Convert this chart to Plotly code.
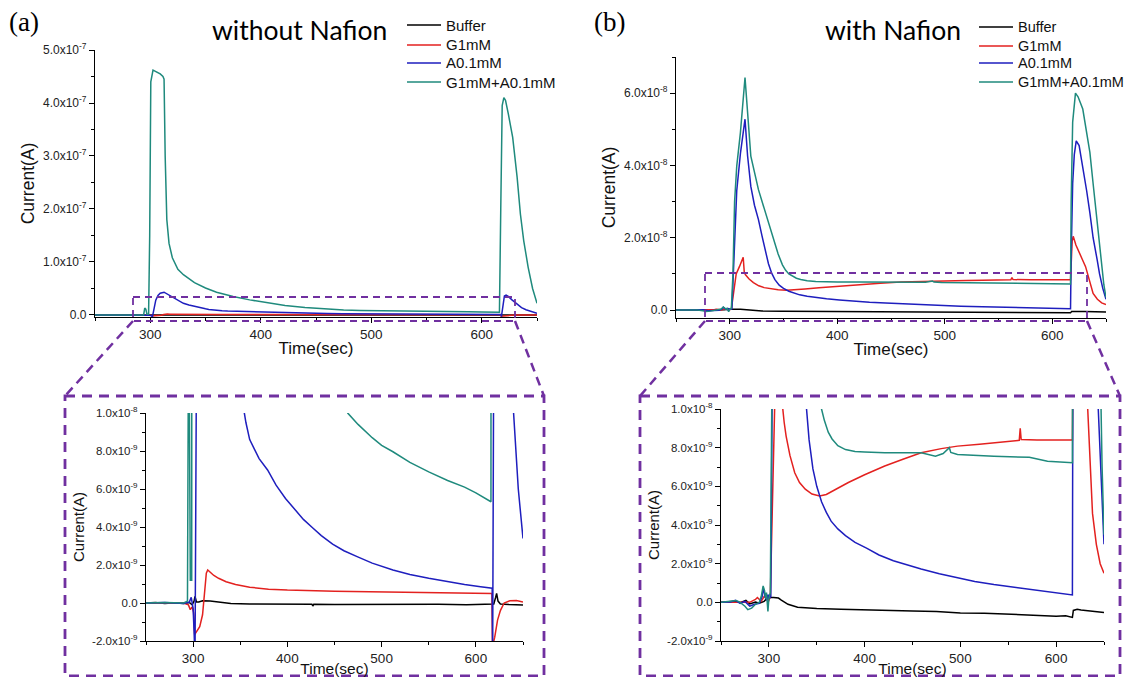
import numpy as np
import plotly.graph_objects as go

W, H = 1125, 677

# ---------------- data (currents in nA, time in s) ----------------
series_names = ["Buffer", "G1mM", "A0.1mM", "G1mM+A0.1mM"]
series_colors = ["#000000", "#E3211F", "#1E1EBE", "#1F8A7D"]

# (a) without Nafion
t_buf_a = [250, 260, 270, 280, 290, 296, 299, 301, 302, 303.5, 306, 310, 318, 325, 340, 360, 380, 400, 426, 427, 428, 450, 480, 500, 530, 560, 590, 617, 619, 621, 622, 623.5, 626, 635, 650]
i_buf_a = [0, 0.02, -0.02, 0.01, -0.02, 0.03, -0.1, 0.1, 0.35, 0.05, 0.05, 0.12, 0.1, 0.05, -0.02, -0.05, -0.06, -0.07, -0.06, -0.16, -0.06, -0.08, -0.07, -0.09, -0.08, -0.07, -0.09, -0.08, -0.05, 0.3, 0.5, 0.1, -0.05, -0.08, -0.1]

t_g_a = [250, 270, 290, 295, 297, 299, 300.5, 301.6, 304, 307, 310, 312.2, 314, 315.5, 318, 322, 327, 335, 345, 360, 380, 400, 450, 500, 550, 600, 617, 617.6, 620, 623, 626, 630, 636, 643, 650]
i_g_a = [0, 0.01, 0, -0.1, -0.35, -0.2, -0.5, -1.66, -1.5, -1.25, -0.62, 0.78, 1.57, 1.74, 1.62, 1.45, 1.3, 1.12, 0.97, 0.83, 0.73, 0.68, 0.62, 0.58, 0.55, 0.52, 0.5, -2.3, -1.8, -0.9, -0.4, 0.0, 0.12, 0.13, 0.05]

t_a_a = [250, 270, 290, 296, 298, 300, 301, 302, 302.6, 303.5, 305, 307, 309, 312.5, 315, 320, 324, 330, 335, 340, 345, 350, 353, 356, 360, 365, 370, 379, 388, 398, 408, 417, 427, 436, 448, 460, 474, 490, 512, 530, 550, 570, 588, 605, 616, 617.3, 617.8, 618.6, 620.5, 622, 624, 627.6, 632, 636, 640, 645, 649, 650]
i_a_a = [0, 0.02, -0.02, 0.05, 0.3, -0.3, -1.5, -3.0, 3, 15, 28, 37, 41, 43, 40, 33, 28, 22, 19, 16.2, 13.7, 11.6, 10.4, 9.5, 8.6, 8.1, 7.6, 7.0, 6.2, 5.5, 4.9, 4.4, 3.95, 3.55, 3.1, 2.75, 2.44, 2.1, 1.74, 1.5, 1.3, 1.12, 0.97, 0.86, 0.8, 0.78, -3, 12, 36, 37.5, 35, 28, 20, 14, 10, 6, 3.6, 3.4]

t_ga_a = [250, 270, 290, 294, 295, 296, 297, 298.5, 299.5, 300.5, 302.5, 306, 309, 311.5, 312.5, 313.5, 315, 317, 320, 325, 330, 340, 350, 360, 375, 390, 405, 422, 440, 464, 475, 490, 500, 512, 530, 550, 570, 588, 600, 616, 617.2, 618.5, 620, 621.5, 624, 628, 632, 635, 638, 642, 646, 650]
i_ga_a = [0, 0.02, 0, 0.1, 13, 11, 1.2, 1.2, 150, 440, 462, 458, 455, 450, 445, 300, 180, 135, 108, 86, 76, 61, 51, 43, 35, 28.5, 23, 18, 14, 10, 9.4, 8.7, 8.3, 7.96, 7.4, 6.9, 6.45, 6.1, 5.8, 5.33, 200, 395, 410, 405, 380, 335, 260, 190, 140, 90, 50, 22]

# (b) with Nafion
t_buf_b = [250, 258, 265, 270, 276, 280, 286, 290, 295, 298, 300, 305, 310, 313, 320, 330, 350, 375, 400, 425, 450, 475, 500, 525, 550, 575, 600, 610, 617, 618, 622, 626, 630, 640, 650]
i_buf_b = [0, 0.02, 0.05, -0.02, 0.1, -0.08, 0.02, -0.05, 0.05, 0.2, 0.25, 0.25, 0.22, 0.12, -0.1, -0.25, -0.32, -0.36, -0.38, -0.42, -0.45, -0.48, -0.55, -0.56, -0.62, -0.65, -0.72, -0.7, -0.78, -0.42, -0.36, -0.4, -0.42, -0.48, -0.52]

t_g_b = [250, 270, 280, 286, 288, 292, 295, 298, 300, 301.5, 303, 304.5, 306, 309, 312.5, 313.5, 314.5, 316, 318, 322, 327, 332, 338, 345, 353, 360, 370, 383, 400, 421, 440, 459, 480, 497, 520, 535, 550, 561.5, 562.5, 563.5, 580, 600, 617, 618.5, 619.5, 622, 625, 628, 631, 633, 635.5, 638, 642, 646, 650]
i_g_b = [0, 0.02, 0, 0.15, 0.25, 0.05, 0.3, 0.2, 0.1, 0.3, 4, 8, 10, 12, 14.6, 10.5, 9.8, 9.3, 8.6, 7.6, 6.7, 6.2, 5.85, 5.6, 5.5, 5.58, 5.85, 6.2, 6.6, 7.05, 7.4, 7.74, 7.95, 8.08, 8.18, 8.25, 8.3, 8.38, 9.0, 8.42, 8.4, 8.38, 8.4, 19, 20.4, 18, 15.8, 14, 12, 10, 7, 4.6, 3.0, 2.0, 1.5]

t_a_b = [250, 260, 265, 270, 275, 280, 285, 290, 293, 294, 296, 298, 299, 300.5, 302, 303, 305, 306.5, 310, 314.2, 316.6, 319.6, 323, 326.7, 330, 333, 336, 339, 342, 346, 350, 355, 360, 365, 372, 380, 390, 402, 415, 430, 445, 459, 478, 497, 515, 535, 555, 572, 590, 605, 617, 617.6, 619, 620.5, 622.3, 625, 628.4, 632, 635, 638, 641.8, 644, 647, 650]
i_a_b = [0, 0.02, 0.1, -0.05, 0.05, -0.2, -0.1, -0.05, 0.3, 0.75, 0.3, 0.1, 0.4, 0.2, 0.3, 8, 24, 33, 43.5, 52.8, 42.6, 34.2, 29, 25, 20.5, 16.5, 12.8, 10.2, 8.4, 6.9, 6.0, 5.2, 4.65, 4.2, 3.8, 3.45, 3.1, 2.8, 2.45, 2.15, 1.92, 1.72, 1.48, 1.26, 1.08, 0.92, 0.78, 0.66, 0.55, 0.46, 0.38, 15, 35, 43, 46.8, 45.5, 39.8, 33, 26.9, 20, 13.9, 10, 6, 3.0]

t_ga_b = [250, 262, 266, 270, 275, 278, 282, 286, 290, 292, 294, 295.5, 296.5, 297.5, 299, 300, 301.5, 303, 304.5, 306.5, 309.9, 314.2, 316.6, 319.6, 326.7, 333.4, 340, 345, 349, 352, 355, 358, 362, 366, 372, 380, 390, 400, 421, 459, 474, 482, 488.5, 490, 497, 535, 572, 591, 617, 617.6, 619, 621.6, 624, 628.4, 631.5, 635, 638, 641.8, 645, 648, 650]
i_ga_b = [0, 0.05, 0.1, 0, -0.2, -0.38, -0.3, -0.1, 0, 0.3, 0.85, 0.6, 0.2, 0.5, -0.47, 0.2, 0.5, 10, 30, 39.8, 49, 64.3, 54.6, 42.6, 33.3, 26.8, 20, 15.5, 12.5, 11, 10, 9.4, 8.8, 8.45, 8.1, 7.9, 7.8, 7.78, 7.74, 7.74, 7.56, 7.7, 8.0, 7.75, 7.65, 7.56, 7.5, 7.3, 7.22, 30, 52, 60, 59, 55.6, 50, 43.6, 35, 24, 14, 7, 3.5]

panel_a = [(t_buf_a, i_buf_a), (t_g_a, i_g_a), (t_a_a, i_a_a), (t_ga_a, i_ga_a)]
panel_b = [(t_buf_b, i_buf_b), (t_g_b, i_g_b), (t_a_b, i_a_b), (t_ga_b, i_ga_b)]

# tick labels
x_tick_vals = [300, 400, 500, 600]
x_tick_text = ["300", "400", "500", "600"]
x_minor_vals = [250, 350, 450, 550, 650]

ya_vals = [0, 1e-7, 2e-7, 3e-7, 4e-7, 5e-7]
ya_text = ["0.0", "1.0x10<sup>-7</sup>", "2.0x10<sup>-7</sup>", "3.0x10<sup>-7</sup>", "4.0x10<sup>-7</sup>", "5.0x10<sup>-7</sup>"]
ya_minor = [0.5e-7, 1.5e-7, 2.5e-7, 3.5e-7, 4.5e-7]

yb_vals = [0, 2e-8, 4e-8, 6e-8]
yb_text = ["0.0", "2.0x10<sup>-8</sup>", "4.0x10<sup>-8</sup>", "6.0x10<sup>-8</sup>"]
yb_minor = [1e-8, 3e-8, 5e-8, 7e-8]

yz_vals = [-2e-9, 0, 2e-9, 4e-9, 6e-9, 8e-9, 1e-8]
yz_text = ["-2.0x10<sup>-9</sup>", "0.0", "2.0x10<sup>-9</sup>", "4.0x10<sup>-9</sup>", "6.0x10<sup>-9</sup>", "8.0x10<sup>-9</sup>", "1.0x10<sup>-8</sup>"]
yz_minor = [-1e-9, 1e-9, 3e-9, 5e-9, 7e-9, 9e-9]

NA = 1e-9  # nA -> A

# ---------------- figure ----------------
def px(x):
    return x / W

def py(y):
    return 1 - y / H

fig = go.Figure()

def add_panel(data, xa, ya):
    for (t, i), name, col in zip(data, series_names, series_colors):
        fig.add_trace(go.Scatter(
            x=t, y=np.array(i) * NA, mode="lines", name=name,
            line=dict(color=col, width=1.5),
            xaxis=xa, yaxis=ya, showlegend=False))

add_panel(panel_a, "x", "y")
add_panel(panel_b, "x2", "y2")
add_panel(panel_a, "x3", "y3")
add_panel(panel_b, "x4", "y4")

FONT = "Liberation Sans, Arial"

def xaxis_def(dom, anchor, title_size):
    return dict(domain=[px(dom[0]), px(dom[1])], anchor=anchor, range=[250, 650],
                tickmode="array", tickvals=x_tick_vals, ticktext=x_tick_text,
                ticks="outside", ticklen=5, tickwidth=1, tickcolor="#000",
                minor=dict(tickvals=x_minor_vals, ticks="outside", ticklen=3, tickcolor="#000"),
                showline=True, linecolor="#000", linewidth=1.2, showgrid=False, zeroline=False,
                tickfont=dict(family=FONT, size=13.5, color="#222"), automargin=False,
                title=dict(text="Time(sec)", font=dict(family=FONT, size=title_size, color="#111"), standoff=0))

def yaxis_def(dom, anchor, rng, vals, text, minor, title_size, tsize):
    return dict(domain=[py(dom[1]), py(dom[0])], anchor=anchor, range=rng,
                tickmode="array", tickvals=vals, ticktext=text,
                ticks="outside", ticklen=5, tickwidth=1, tickcolor="#000",
                minor=dict(tickvals=minor, ticks="outside", ticklen=3, tickcolor="#000"),
                showline=True, linecolor="#000", linewidth=1.2, showgrid=False, zeroline=False,
                tickfont=dict(family=FONT, size=tsize, color="#222"), automargin=False,
                title=dict(text="Current(A)", font=dict(family=FONT, size=title_size, color="#111"), standoff=3))

fig.update_layout(
    width=W, height=H, margin=dict(l=0, r=0, t=0, b=0, autoexpand=False),
    paper_bgcolor="white", plot_bgcolor="white", showlegend=False,
    xaxis=xaxis_def((95, 537), "y", 17),
    yaxis=yaxis_def((50, 317), "x", [-3.8e-9, 5e-7], ya_vals, ya_text, ya_minor, 17.5, 12),
    xaxis2=xaxis_def((676, 1106), "y2", 17),
    yaxis2=yaxis_def((57, 318), "x2", [-2.2e-9, 7.0e-8], yb_vals, yb_text, yb_minor, 17.5, 12),
    xaxis3=xaxis_def((146, 523), "y3", 15.5),
    yaxis3=yaxis_def((413, 641), "x3", [-2e-9, 1e-8], yz_vals, yz_text, yz_minor, 15, 11.5),
    xaxis4=xaxis_def((721, 1104), "y4", 15.5),
    yaxis4=yaxis_def((409, 641), "x4", [-2e-9, 1e-8], yz_vals, yz_text, yz_minor, 15, 11.5),
)

# legends (line samples + labels)
legend_rows_a = [25, 45, 63, 82]
legend_rows_b = [27, 46, 63, 82]
for rows, lx0, lx1, fs in ((legend_rows_a, 407, 441, 15), (legend_rows_b, 979, 1013, 14.5)):
    for yy, name, col in zip(rows, series_names, series_colors):
        fig.add_shape(type="line", xref="paper", yref="paper", x0=px(lx0), x1=px(lx1), y0=py(yy), y1=py(yy),
                      line=dict(color=col, width=1.6))
        fig.add_annotation(x=px(lx1 + 3), y=py(yy), xref="paper", yref="paper", text=name,
                           xanchor="left", yanchor="middle", showarrow=False,
                           font=dict(family=FONT, size=fs, color="#111"))

# titles and panel labels
def label(x, y, text, family, size):
    fig.add_annotation(x=px(x), y=py(y), xref="paper", yref="paper", text=text,
                       xanchor="center", yanchor="middle", showarrow=False,
                       font=dict(family=family, size=size, color="#000"))

label(299, 30, "without Nafion", "Lato", 26.5)
label(893, 30, "with Nafion", "Lato", 26.5)
label(24, 22, "(a)", "Liberation Serif", 27)
label(609, 22, "(b)", "Liberation Serif", 27)

# dashed zoom indicators
PURPLE = "#7030A0"
def pline(x0, y0, x1, y1, width=2.5, dash="7px,5px"):
    fig.add_shape(type="line", xref="paper", yref="paper", x0=px(x0), y0=py(y0), x1=px(x1), y1=py(y1),
                  line=dict(color=PURPLE, width=width, dash=dash))

def prect(x0, y0, x1, y1, width=2.5, dash="7px,5px"):
    fig.add_shape(type="rect", xref="paper", yref="paper", x0=px(x0), y0=py(y0), x1=px(x1), y1=py(y1),
                  line=dict(color=PURPLE, width=width, dash=dash), fillcolor="rgba(0,0,0,0)")

prect(133, 297, 515, 321, width=1.8, dash="7px,5px")
prect(705, 273, 1087, 321, width=1.8, dash="7px,5px")
pline(133, 321, 65, 396, width=2.5, dash="9px,6px")
pline(515, 321, 544, 396, width=2.5, dash="9px,6px")
pline(705, 321, 640, 396, width=2.5, dash="9px,6px")
pline(1087, 321, 1120, 396, width=2.5, dash="9px,6px")
prect(65, 396, 544, 676, width=2.8, dash="10px,7px")
prect(640, 396, 1120, 676, width=2.8, dash="10px,7px")

fig.write_html("out.html", config={"displayModeBar": False},
               post_script="document.body.style.margin='0';document.body.style.overflow='hidden';")
